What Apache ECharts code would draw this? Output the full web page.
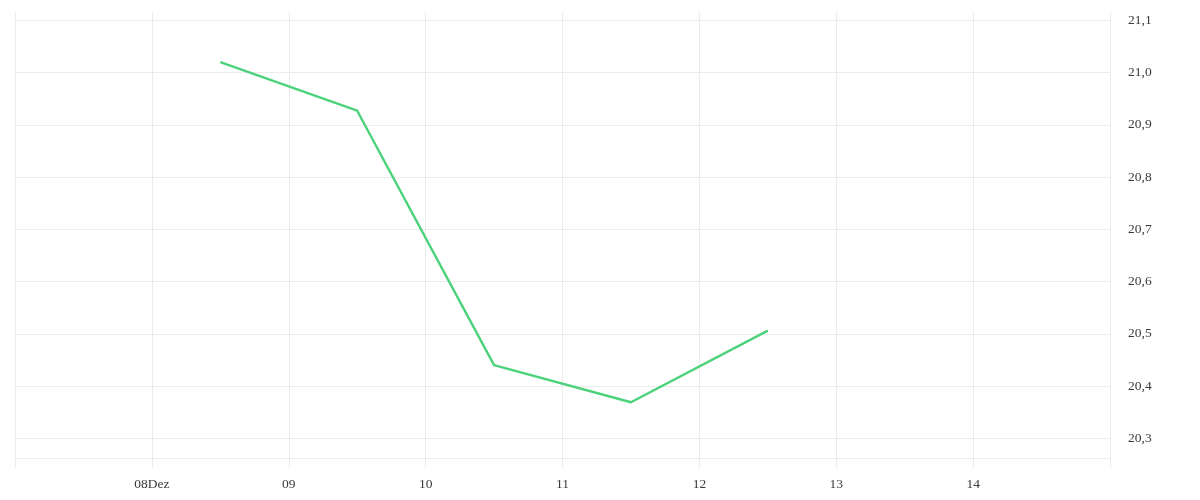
<!DOCTYPE html>
<html>
<head>
<meta charset="utf-8">
<script src="https://cdn.jsdelivr.net/npm/echarts@6/dist/echarts.min.js"></script>
<style>
  html, body { margin: 0; padding: 0; background: #fff; }
  #main { width: 1200px; height: 500px; }
</style>
</head>
<body>
<div id="main"></div>
<script>
// Tage im Dezember (x-Achse), Markierungen und Beschriftungen
const dayTicks = [7, 8, 9, 10, 11, 12, 13, 14, 15];
const dayLabels = ['', '08Dez', '09', '10', '11', '12', '13', '14', ''];

// Messpunkte jeweils zur Tagesmitte
const pointDays = [8.5, 9.5, 10.5, 11.5, 12.5];
const pointValues = [21.02, 20.927, 20.44, 20.369, 20.506];

// y-Achse
const yTicks = [20.3, 20.4, 20.5, 20.6, 20.7, 20.8, 20.9, 21.0, 21.1];
const yMin = 20.2623;
const yMax = 21.1159;

const gridColor = '#ececec';
const textStyle = { color: '#3a3a3a', fontFamily: 'Liberation Serif', fontSize: 13.5 };

const chart = echarts.init(document.getElementById('main'));

const option = {
  animation: false,
  grid: { left: 15, right: 90, top: 12, bottom: 42, containLabel: false },
  xAxis: {
    type: 'value',
    min: dayTicks[0],
    max: dayTicks[dayTicks.length - 1],
    interval: 1,
    axisLine: { show: true, lineStyle: { color: gridColor } },
    axisTick: { show: true, length: 10, lineStyle: { color: gridColor } },
    splitLine: { show: true, lineStyle: { color: gridColor } },
    axisLabel: Object.assign({
      margin: 19,
      formatter: v => dayLabels[dayTicks.indexOf(Math.round(v))] || ''
    }, textStyle)
  },
  yAxis: {
    type: 'value',
    position: 'right',
    min: yMin,
    max: yMax,
    axisLine: { show: false },
    axisTick: { show: false, customValues: yTicks },
    splitLine: { show: true, lineStyle: { color: gridColor } },
    axisLabel: Object.assign({
      margin: 18,
      padding: [6, 0, 0, 0],
      customValues: yTicks,
      formatter: v => v.toFixed(1).replace('.', ',')
    }, textStyle)
  },
  series: [{
    type: 'line',
    data: pointDays.map((d, i) => [d, pointValues[i]]),
    showSymbol: false,
    lineStyle: { color: '#4cd27b', width: 2.4 },
    itemStyle: { color: '#4cd27b' }
  }]
};

chart.setOption(option);
</script>
</body>
</html>
